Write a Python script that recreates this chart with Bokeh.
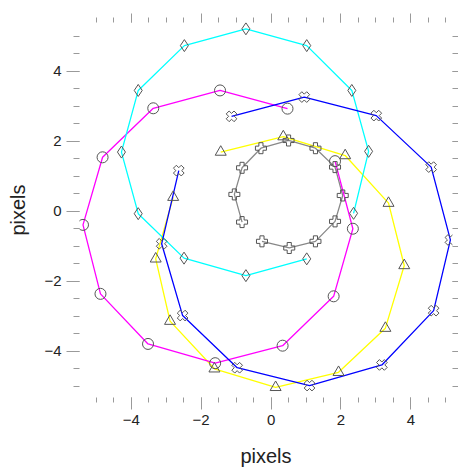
import math
from bokeh.plotting import figure
from bokeh.models import LinearAxis, SingleIntervalTicker, Range1d, CustomJSTickFormatter
from bokeh.embed import file_html
from bokeh.resources import INLINE

# series data (x, y)
gray_x = [-0.83, -1.05, -0.83, -0.29, 0.50, 1.27, 1.83, 2.05, 1.83, 1.27, 0.52, -0.26]
gray_y = [-0.31, 0.48, 1.24, 1.80, 2.02, 1.80, 1.26, 0.45, -0.29, -0.86, -1.05, -0.86]

yellow_x = [-1.44, 0.35, 2.12, 3.36, 3.81, 3.27, 1.93, 0.13, -1.62, -2.89, -3.30, -2.80]
yellow_y = [1.69, 2.13, 1.59, 0.23, -1.55, -3.34, -4.60, -5.03, -4.50, -3.14, -1.36, 0.40]

magenta_x = [1.83, 2.34, 1.79, 0.33, -1.60, -3.52, -4.88, -5.38, -4.82, -3.37, -1.46, 0.47]
magenta_y = [1.43, -0.50, -2.43, -3.84, -4.34, -3.79, -2.36, -0.39, 1.54, 2.94, 3.45, 2.93]

cyan_x = [2.36, 2.79, 2.31, 1.02, -0.72, -2.48, -3.80, -4.28, -3.80, -2.49, -0.72, 1.02]
cyan_y = [-0.06, 1.71, 3.45, 4.73, 5.21, 4.73, 3.45, 1.69, -0.07, -1.34, -1.84, -1.36]

blue_x = [-1.13, 0.95, 3.01, 4.58, 5.13, 4.65, 3.17, 1.10, -0.97, -2.53, -3.13, -2.64]
blue_y = [2.71, 3.26, 2.73, 1.26, -0.82, -2.84, -4.39, -4.98, -4.47, -2.98, -0.93, 1.16]

tick_values = [-4, -2, 0, 2, 4]
tick_labels = ["\u22124", "\u22122", "0", "2", "4"]

FONT = "Liberation Sans"
TICK_COLOR = "#9a9a9a"
MARK_COLOR = "#555555"

p = figure(width=458, height=473, output_backend="svg", toolbar_location=None,
           x_range=Range1d(-5.48, 5.19), y_range=Range1d(-5.32, 5.39),
           x_axis_location=None, y_axis_location=None,
           min_border_left=79, min_border_top=22, min_border_bottom=76, min_border_right=6)
p.outline_line_color = None
p.xgrid.visible = False
p.ygrid.visible = False


def make_axis(label, show_labels, major_out, minor_out, label_standoff):
    ax = LinearAxis(ticker=SingleIntervalTicker(interval=2, num_minor_ticks=4))
    ax.axis_line_color = None
    ax.major_tick_line_color = TICK_COLOR
    ax.minor_tick_line_color = TICK_COLOR
    ax.major_tick_in = 0
    ax.minor_tick_in = 0
    ax.major_tick_out = major_out
    ax.minor_tick_out = minor_out
    ax.major_tick_line_width = 1
    ax.minor_tick_line_width = 1
    if show_labels:
        ax.major_label_overrides = {v: t for v, t in zip(tick_values, tick_labels)}
        ax.major_label_text_font = FONT
        ax.major_label_text_font_size = "15px"
        ax.major_label_text_color = "#222222"
        ax.major_label_standoff = 5
        ax.axis_label = label
        ax.axis_label_text_font = FONT
        ax.axis_label_text_font_size = "20px"
        ax.axis_label_text_font_style = "normal"
        ax.axis_label_text_color = "#222222"
        ax.axis_label_standoff = label_standoff
    else:
        ax.formatter = CustomJSTickFormatter(code="return '';")
        ax.major_label_standoff = 0
    return ax


p.add_layout(make_axis("pixels", True, 12, 5, 17), "below")
p.add_layout(make_axis("pixels", True, 13, 6, 12), "left")
p.add_layout(make_axis("", False, 9, 5, 0), "above")
p.add_layout(make_axis("", False, 6, 6, 0), "right")

series = [
    (gray_x, gray_y, "#888888", "plus", 0),
    (yellow_x, yellow_y, "#ffff00", "triangle", 0),
    (magenta_x, magenta_y, "#ff00ff", "circle", 0),
    (cyan_x, cyan_y, "#00ffff", "diamond", 0),
    (blue_x, blue_y, "#0000ff", "plus", math.pi / 4),
]

for xs, ys, col, mk, ang in series:
    p.line(xs, ys, line_color=col, line_width=1.3)

for xs, ys, col, mk, ang in series:
    size = 11 if mk != "diamond" else 12
    p.scatter(xs, ys, marker=mk, size=size, angle=ang, fill_color=None,
              line_color=MARK_COLOR, line_width=1)

open("out.html", "w").write(file_html(p, INLINE))
